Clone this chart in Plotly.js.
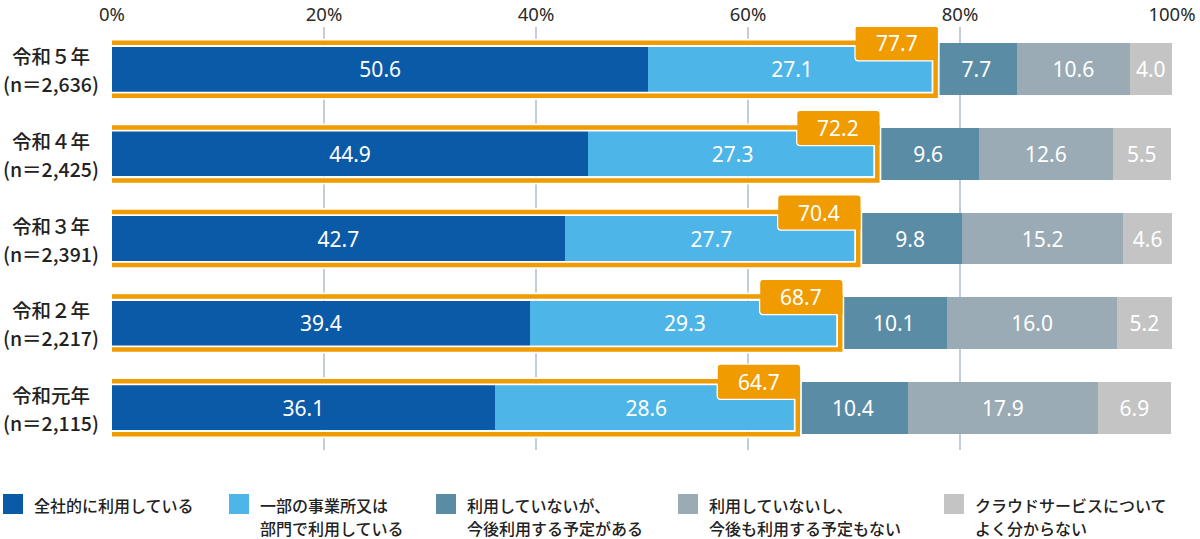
<!DOCTYPE html>
<html><head><meta charset="utf-8">
<script src="https://cdn.plot.ly/plotly-3.0.1.min.js"></script>
<style>html,body{margin:0;padding:0;background:#fff}#chart{width:1200px;height:539px}</style>
</head><body><div id="chart"></div>
<script>
// ---- data ----
const years = ['令和５年','令和４年','令和３年','令和２年','令和元年'];
const sampleSizes = ['2,636','2,425','2,391','2,217','2,115'];
const seriesNames = [
  '全社的に利用している',
  '一部の事業所又は<br>部門で利用している',
  '利用していないが、<br>今後利用する予定がある',
  '利用していないし、<br>今後も利用する予定もない',
  'クラウドサービスについて<br>よく分からない'
];
const companyWide = [50.6, 44.9, 42.7, 39.4, 36.1];
const partial     = [27.1, 27.3, 27.7, 29.3, 28.6];
const planning    = [7.7, 9.6, 9.8, 10.1, 10.4];
const noPlan      = [10.6, 12.6, 15.2, 16.0, 17.9];
const unknown     = [4.0, 5.5, 4.6, 5.2, 6.9];
const usingTotal  = [77.7, 72.2, 70.4, 68.7, 64.7];
const xTicks = [0, 20, 40, 60, 80, 100];

// ---- style ----
const colors = ['#0a5aa8', '#4db5e8', '#5b8ca5', '#9aabb5', '#c4c4c4'];
const orange = '#f09b00';
const W = 1200, H = 539, L = 112, R = 28, T = 27, B = 89;
const plotW = W - L - R, plotH = H - T - B;
const pxPerUnit = plotW / 100;
const pad = 4 / pxPerUnit;
const cjk = '"Noto Sans CJK JP", "Noto Sans", sans-serif';
const num = '"Noto Sans", "Noto Sans CJK JP", sans-serif';

const allSeries = [companyWide, partial, planning, noPlan, unknown];
const rowPos = years.map((_, k) => k);

const traces = allSeries.map((vals, i) => ({
  type: 'bar', orientation: 'h',
  x: vals, y: rowPos, name: seriesNames[i],
  width: i < 2 ? 0.53 : 0.614,
  marker: {color: colors[i], line: {width: 0}},
  texttemplate: '%{x:.1f}', textposition: 'inside', insidetextanchor: 'middle',
  textangle: 0, constraintext: 'none',
  textfont: {family: num, size: 21, color: '#ffffff'},
  hoverinfo: 'skip', showlegend: false
}));

const tabPath = 'M -80,12 L -80,40 Q -80,43 -77,43 L -1,43 Q 2.25,43 2.25,40 L 2.25,9 L -77,9 Q -80,9 -80,12 Z';
const shapes = [];
const annotations = [];
rowPos.forEach(k => {
  const frame = {type: 'rect', layer: 'above', xref: 'x', yref: 'y',
    x0: -pad, x1: usingTotal[k], ysizemode: 'pixel', yanchor: k, y0: -26.5, y1: 26.5,
    fillcolor: 'rgba(0,0,0,0)'};
  const tab = {type: 'path', layer: 'above', xref: 'x', yref: 'y',
    xsizemode: 'pixel', xanchor: usingTotal[k], ysizemode: 'pixel', yanchor: k,
    path: tabPath, fillcolor: orange};
  shapes.push(Object.assign({}, frame, {line: {color: '#ffffff', width: 8}}));
  shapes.push(Object.assign({}, tab, {line: {color: '#ffffff', width: 2.5}}));
  shapes.push(Object.assign({}, frame, {line: {color: orange, width: 4.5}}));
  shapes.push(Object.assign({}, tab, {line: {width: 0}}));
  annotations.push({xref: 'x', yref: 'y', x: usingTotal[k], y: k, xshift: -39, yshift: 26,
    text: usingTotal[k].toFixed(1), showarrow: false, xanchor: 'center', yanchor: 'middle',
    font: {family: num, size: 21, color: '#ffffff'}});
  // row label: two lines, centred on each other
  annotations.push({xref: 'paper', yref: 'y', x: 0, y: k, xshift: -61, yshift: 13.5,
    text: years[k], showarrow: false, xanchor: 'center', yanchor: 'middle',
    font: {family: cjk, size: 19.5, color: '#222222', weight: 500}});
  annotations.push({xref: 'paper', yref: 'y', x: 0, y: k, xshift: -61, yshift: -14.5,
    text: '(n＝' + sampleSizes[k] + ')', showarrow: false, xanchor: 'center', yanchor: 'middle',
    font: {family: cjk, size: 19.5, color: '#222222', weight: 500}});
});

// legend (custom)
const legSquareX = [3, 229, 436, 678, 944];
const px2x = px => (px - L) / plotW;
const py2y = py => (H - B - py) / plotH;
seriesNames.forEach((nm, i) => {
  shapes.push({type: 'rect', xref: 'paper', yref: 'paper', layer: 'above',
    x0: px2x(legSquareX[i]), x1: px2x(legSquareX[i] + 20),
    y0: py2y(514), y1: py2y(494), fillcolor: colors[i], line: {width: 0}});
  nm.split('<br>').forEach((line, j) => {
    annotations.push({xref: 'paper', yref: 'paper', x: px2x(legSquareX[i] + 29), y: py2y(505 + 23 * j),
      xanchor: 'left', yanchor: 'middle', align: 'left', showarrow: false, text: line,
      font: {family: cjk, size: 16, color: '#222222', weight: 500}});
  });
});

const layout = {
  width: W, height: H,
  margin: {l: L, r: R, t: T, b: B, pad: 0},
  paper_bgcolor: '#ffffff', plot_bgcolor: '#ffffff',
  barmode: 'stack', bargap: 0,
  showlegend: false,
  xaxis: {range: [0, 100], side: 'top', tickvals: xTicks, ticktext: xTicks.map(v => v + '%'),
    showgrid: true, gridcolor: '#c5ced6', gridwidth: 2, zeroline: false, showline: false,
    ticks: '', ticklabelstandoff: 1,
    tickfont: {family: num, size: 18.5, color: '#2a2a2a'}, fixedrange: true},
  yaxis: {range: [4.5, -0.5], showticklabels: false, showgrid: false, zeroline: false,
    showline: false, ticks: '', fixedrange: true},
  shapes: shapes,
  annotations: annotations,
  hovermode: false
};

Plotly.newPlot('chart', traces, layout, {displayModeBar: false, staticPlot: true});
</script>
</body></html>
